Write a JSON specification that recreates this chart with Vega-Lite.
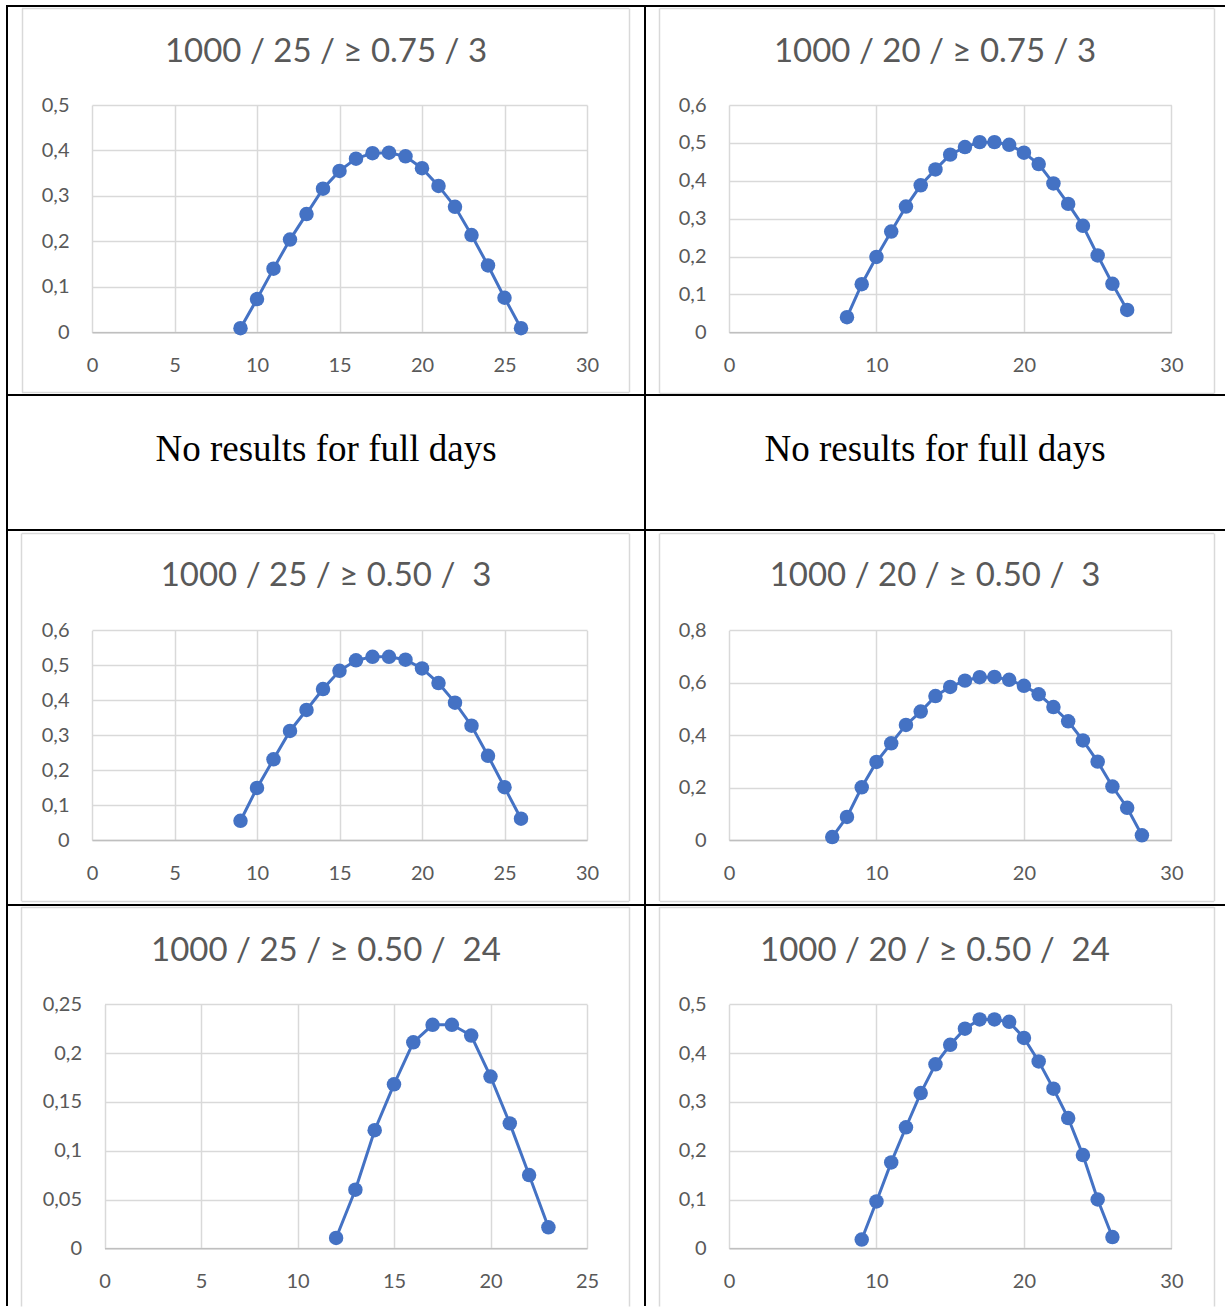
{
  "$schema": "https://vega.github.io/schema/vega-lite/v6.json",
  "background": "white",
  "padding": {"left": 6, "top": 5, "right": 0, "bottom": 0},
  "columns": 2,
  "spacing": 0,
  "bounds": "flush",
  "datasets": {
    "c1": [
      {"x": 9, "y": 0.009}, {"x": 10, "y": 0.073}, {"x": 11, "y": 0.140}, {"x": 12, "y": 0.204},
      {"x": 13, "y": 0.260}, {"x": 14, "y": 0.316}, {"x": 15, "y": 0.355}, {"x": 16, "y": 0.382},
      {"x": 17, "y": 0.394}, {"x": 18, "y": 0.395}, {"x": 19, "y": 0.387}, {"x": 20, "y": 0.361},
      {"x": 21, "y": 0.322}, {"x": 22, "y": 0.276}, {"x": 23, "y": 0.214}, {"x": 24, "y": 0.147},
      {"x": 25, "y": 0.076}, {"x": 26, "y": 0.009}
    ],
    "c2": [
      {"x": 8, "y": 0.040}, {"x": 9, "y": 0.127}, {"x": 10, "y": 0.199}, {"x": 11, "y": 0.266},
      {"x": 12, "y": 0.332}, {"x": 13, "y": 0.388}, {"x": 14, "y": 0.430}, {"x": 15, "y": 0.469},
      {"x": 16, "y": 0.489}, {"x": 17, "y": 0.502}, {"x": 18, "y": 0.502}, {"x": 19, "y": 0.495},
      {"x": 20, "y": 0.474}, {"x": 21, "y": 0.444}, {"x": 22, "y": 0.393}, {"x": 23, "y": 0.339},
      {"x": 24, "y": 0.281}, {"x": 25, "y": 0.203}, {"x": 26, "y": 0.128}, {"x": 27, "y": 0.059}
    ],
    "c3": [
      {"x": 9, "y": 0.055}, {"x": 10, "y": 0.149}, {"x": 11, "y": 0.231}, {"x": 12, "y": 0.312},
      {"x": 13, "y": 0.372}, {"x": 14, "y": 0.432}, {"x": 15, "y": 0.484}, {"x": 16, "y": 0.514},
      {"x": 17, "y": 0.524}, {"x": 18, "y": 0.524}, {"x": 19, "y": 0.516}, {"x": 20, "y": 0.491},
      {"x": 21, "y": 0.449}, {"x": 22, "y": 0.393}, {"x": 23, "y": 0.327}, {"x": 24, "y": 0.241},
      {"x": 25, "y": 0.151}, {"x": 26, "y": 0.061}
    ],
    "c4": [
      {"x": 7, "y": 0.011}, {"x": 8, "y": 0.088}, {"x": 9, "y": 0.201}, {"x": 10, "y": 0.298},
      {"x": 11, "y": 0.369}, {"x": 12, "y": 0.439}, {"x": 13, "y": 0.490}, {"x": 14, "y": 0.549},
      {"x": 15, "y": 0.584}, {"x": 16, "y": 0.608}, {"x": 17, "y": 0.621}, {"x": 18, "y": 0.622},
      {"x": 19, "y": 0.611}, {"x": 20, "y": 0.588}, {"x": 21, "y": 0.556}, {"x": 22, "y": 0.507},
      {"x": 23, "y": 0.453}, {"x": 24, "y": 0.380}, {"x": 25, "y": 0.299}, {"x": 26, "y": 0.204},
      {"x": 27, "y": 0.123}, {"x": 28, "y": 0.018}
    ],
    "c5": [
      {"x": 12, "y": 0.0106}, {"x": 13, "y": 0.060}, {"x": 14, "y": 0.121}, {"x": 15, "y": 0.168},
      {"x": 16, "y": 0.211}, {"x": 17, "y": 0.229}, {"x": 18, "y": 0.229}, {"x": 19, "y": 0.218},
      {"x": 20, "y": 0.176}, {"x": 21, "y": 0.128}, {"x": 22, "y": 0.075}, {"x": 23, "y": 0.0215}
    ],
    "c6": [
      {"x": 9, "y": 0.018}, {"x": 10, "y": 0.096}, {"x": 11, "y": 0.176}, {"x": 12, "y": 0.248},
      {"x": 13, "y": 0.318}, {"x": 14, "y": 0.377}, {"x": 15, "y": 0.417}, {"x": 16, "y": 0.450},
      {"x": 17, "y": 0.469}, {"x": 18, "y": 0.469}, {"x": 19, "y": 0.464}, {"x": 20, "y": 0.431},
      {"x": 21, "y": 0.383}, {"x": 22, "y": 0.327}, {"x": 23, "y": 0.267}, {"x": 24, "y": 0.191},
      {"x": 25, "y": 0.100}, {"x": 26, "y": 0.023}
    ],
    "notes": [{"note": "No results for full days"}]
  },
  "concat": [
    {
      "width": 638, "height": 389,
      "view": {"stroke": "black", "strokeWidth": 2},
      "title": {"text": "1000 / 25 / ≥ 0.75 / 3", "offset": -63},
      "data": {"name": "c1"},
      "resolve": {"scale": {"x": "independent", "y": "independent"}, "axis": {"x": "independent", "y": "independent"}},
      "layer": [
        {
          "mark": {"type": "point", "opacity": 0},
          "encoding": {
            "x": {"datum": 0, "type": "quantitative", "scale": {"domain": [0, 1], "range": [14.5, 621.6], "nice": false, "zero": false},
              "axis": {"orient": "top", "offset": 0, "values": [0, 1], "labels": false, "domain": false, "grid": true}},
            "y": {"datum": 0, "type": "quantitative", "scale": {"domain": [0, 1], "range": [386, 2], "nice": false, "zero": false},
              "axis": {"orient": "left", "offset": 0, "values": [0, 1], "labels": false, "domain": false, "grid": true}}
          }
        },
        {
          "mark": {"type": "line", "color": "#4472C4", "strokeWidth": 3, "point": {"filled": true, "size": 210, "color": "#4472C4", "opacity": 1}},
          "encoding": {
            "x": {"field": "x", "type": "quantitative",
              "scale": {"domain": [0, 30], "range": [85, 580], "nice": false, "zero": false},
              "axis": {"orient": "top", "values": [0, 5, 10, 15, 20, 25, 30], "offset": -326.3, "domain": true, "grid": true}},
            "y": {"field": "y", "type": "quantitative",
              "scale": {"domain": [0, 0.5], "range": [326.3, 99], "nice": false},
              "axis": {"orient": "left", "values": [0, 0.1, 0.2, 0.3, 0.4, 0.5], "offset": -85, "grid": true}}
          }
        }
      ]
    },
    {
      "width": 580, "height": 389,
      "view": {"stroke": "black", "strokeWidth": 2, "strokeDash": [580, 389, 969, 0]},
      "title": {"text": "1000 / 20 / ≥ 0.75 / 3", "offset": -63},
      "data": {"name": "c2"},
      "resolve": {"scale": {"x": "independent", "y": "independent"}, "axis": {"x": "independent", "y": "independent"}},
      "layer": [
        {
          "mark": {"type": "point", "opacity": 0},
          "encoding": {
            "x": {"datum": 0, "type": "quantitative", "scale": {"domain": [0, 1], "range": [14.4, 568.6], "nice": false, "zero": false},
              "axis": {"orient": "top", "offset": 0, "values": [0, 1], "labels": false, "domain": false, "grid": true}},
            "y": {"datum": 0, "type": "quantitative", "scale": {"domain": [0, 1], "range": [387, 2], "nice": false, "zero": false},
              "axis": {"orient": "left", "offset": 0, "values": [0, 1], "labels": false, "domain": false, "grid": true}}
          }
        },
        {
          "mark": {"type": "line", "color": "#4472C4", "strokeWidth": 3, "point": {"filled": true, "size": 210, "color": "#4472C4", "opacity": 1}},
          "encoding": {
            "x": {"field": "x", "type": "quantitative",
              "scale": {"domain": [0, 30], "range": [84, 526.4], "nice": false, "zero": false},
              "axis": {"orient": "top", "values": [0, 10, 20, 30], "offset": -326.3, "domain": true, "grid": true}},
            "y": {"field": "y", "type": "quantitative",
              "scale": {"domain": [0, 0.6], "range": [326.3, 99], "nice": false},
              "axis": {"orient": "left", "values": [0, 0.1, 0.2, 0.3, 0.4, 0.5, 0.6], "offset": -84, "grid": true}}
          }
        }
      ]
    },
    {
      "width": 638, "height": 135,
      "view": {"stroke": "black", "strokeWidth": 2},
      "data": {"name": "notes"},
      "mark": {"type": "text", "font": "Liberation Serif", "fontSize": 37, "color": "black", "baseline": "alphabetic", "dy": -2},
      "encoding": {"text": {"field": "note"}}
    },
    {
      "width": 580, "height": 135,
      "view": {"stroke": "black", "strokeWidth": 2, "strokeDash": [580, 135, 715, 0]},
      "data": {"name": "notes"},
      "mark": {"type": "text", "font": "Liberation Serif", "fontSize": 37, "color": "black", "baseline": "alphabetic", "dy": -2},
      "encoding": {"text": {"field": "note"}}
    },
    {
      "width": 638, "height": 375,
      "view": {"stroke": "black", "strokeWidth": 2},
      "title": {"text": "1000 / 25 / ≥ 0.50 / \u00a03", "offset": -63},
      "data": {"name": "c3"},
      "resolve": {"scale": {"x": "independent", "y": "independent"}, "axis": {"x": "independent", "y": "independent"}},
      "layer": [
        {
          "mark": {"type": "point", "opacity": 0},
          "encoding": {
            "x": {"datum": 0, "type": "quantitative", "scale": {"domain": [0, 1], "range": [14.2, 621.6], "nice": false, "zero": false},
              "axis": {"orient": "top", "offset": 0, "values": [0, 1], "labels": false, "domain": false, "grid": true}},
            "y": {"datum": 0, "type": "quantitative", "scale": {"domain": [0, 1], "range": [370.7, 3], "nice": false, "zero": false},
              "axis": {"orient": "left", "offset": 0, "values": [0, 1], "labels": false, "domain": false, "grid": true}}
          }
        },
        {
          "mark": {"type": "line", "color": "#4472C4", "strokeWidth": 3, "point": {"filled": true, "size": 210, "color": "#4472C4", "opacity": 1}},
          "encoding": {
            "x": {"field": "x", "type": "quantitative",
              "scale": {"domain": [0, 30], "range": [85, 580], "nice": false, "zero": false},
              "axis": {"orient": "top", "values": [0, 5, 10, 15, 20, 25, 30], "offset": -310, "domain": true, "grid": true}},
            "y": {"field": "y", "type": "quantitative",
              "scale": {"domain": [0, 0.6], "range": [310, 100.3], "nice": false},
              "axis": {"orient": "left", "values": [0, 0.1, 0.2, 0.3, 0.4, 0.5, 0.6], "offset": -85, "grid": true}}
          }
        }
      ]
    },
    {
      "width": 580, "height": 375,
      "view": {"stroke": "black", "strokeWidth": 2, "strokeDash": [580, 375, 955, 0]},
      "title": {"text": "1000 / 20 / ≥ 0.50 / \u00a03", "offset": -63},
      "data": {"name": "c4"},
      "resolve": {"scale": {"x": "independent", "y": "independent"}, "axis": {"x": "independent", "y": "independent"}},
      "layer": [
        {
          "mark": {"type": "point", "opacity": 0},
          "encoding": {
            "x": {"datum": 0, "type": "quantitative", "scale": {"domain": [0, 1], "range": [14.4, 568.6], "nice": false, "zero": false},
              "axis": {"orient": "top", "offset": 0, "values": [0, 1], "labels": false, "domain": false, "grid": true}},
            "y": {"datum": 0, "type": "quantitative", "scale": {"domain": [0, 1], "range": [370.7, 3], "nice": false, "zero": false},
              "axis": {"orient": "left", "offset": 0, "values": [0, 1], "labels": false, "domain": false, "grid": true}}
          }
        },
        {
          "mark": {"type": "line", "color": "#4472C4", "strokeWidth": 3, "point": {"filled": true, "size": 210, "color": "#4472C4", "opacity": 1}},
          "encoding": {
            "x": {"field": "x", "type": "quantitative",
              "scale": {"domain": [0, 30], "range": [84, 526.4], "nice": false, "zero": false},
              "axis": {"orient": "top", "values": [0, 10, 20, 30], "offset": -310, "domain": true, "grid": true}},
            "y": {"field": "y", "type": "quantitative",
              "scale": {"domain": [0, 0.8], "range": [310, 100.3], "nice": false},
              "axis": {"orient": "left", "values": [0, 0.2, 0.4, 0.6, 0.8], "offset": -84, "grid": true}}
          }
        }
      ]
    },
    {
      "width": 638, "height": 401,
      "view": {"stroke": "black", "strokeWidth": 2, "strokeDash": [1039, 638, 401, 0]},
      "title": {"text": "1000 / 25 / ≥ 0.50 / \u00a024", "offset": -63},
      "data": {"name": "c5"},
      "resolve": {"scale": {"x": "independent", "y": "independent"}, "axis": {"x": "independent", "y": "independent"}},
      "layer": [
        {
          "mark": {"type": "point", "opacity": 0},
          "encoding": {
            "x": {"datum": 0, "type": "quantitative", "scale": {"domain": [0, 1], "range": [14.2, 621.6], "nice": false, "zero": false},
              "axis": {"orient": "top", "offset": 0, "values": [0, 1], "labels": false, "domain": false, "grid": true}},
            "y": {"datum": 0, "type": "quantitative", "scale": {"domain": [0, 1], "range": [401, 1.5], "nice": false, "zero": false},
              "axis": {"orient": "left", "offset": 0, "values": [1], "labels": false, "domain": false, "grid": true}}
          }
        },
        {
          "mark": {"type": "line", "color": "#4472C4", "strokeWidth": 3, "point": {"filled": true, "size": 210, "color": "#4472C4", "opacity": 1}},
          "encoding": {
            "x": {"field": "x", "type": "quantitative",
              "scale": {"domain": [0, 25], "range": [97.5, 580], "nice": false, "zero": false},
              "axis": {"orient": "top", "values": [0, 5, 10, 15, 20, 25], "offset": -343.3, "domain": true, "grid": true}},
            "y": {"field": "y", "type": "quantitative",
              "scale": {"domain": [0, 0.25], "range": [343.3, 99.3], "nice": false},
              "axis": {"orient": "left", "values": [0, 0.05, 0.1, 0.15, 0.2, 0.25], "offset": -97.5, "grid": true}}
          }
        }
      ]
    },
    {
      "width": 580, "height": 401,
      "view": {"stroke": "black", "strokeWidth": 2, "strokeDash": [580, 981, 401, 0]},
      "title": {"text": "1000 / 20 / ≥ 0.50 / \u00a024", "offset": -63},
      "data": {"name": "c6"},
      "resolve": {"scale": {"x": "independent", "y": "independent"}, "axis": {"x": "independent", "y": "independent"}},
      "layer": [
        {
          "mark": {"type": "point", "opacity": 0},
          "encoding": {
            "x": {"datum": 0, "type": "quantitative", "scale": {"domain": [0, 1], "range": [14.4, 568.6], "nice": false, "zero": false},
              "axis": {"orient": "top", "offset": 0, "values": [0, 1], "labels": false, "domain": false, "grid": true}},
            "y": {"datum": 0, "type": "quantitative", "scale": {"domain": [0, 1], "range": [401, 1.5], "nice": false, "zero": false},
              "axis": {"orient": "left", "offset": 0, "values": [1], "labels": false, "domain": false, "grid": true}}
          }
        },
        {
          "mark": {"type": "line", "color": "#4472C4", "strokeWidth": 3, "point": {"filled": true, "size": 210, "color": "#4472C4", "opacity": 1}},
          "encoding": {
            "x": {"field": "x", "type": "quantitative",
              "scale": {"domain": [0, 30], "range": [84, 526.4], "nice": false, "zero": false},
              "axis": {"orient": "top", "values": [0, 10, 20, 30], "offset": -343.3, "domain": true, "grid": true}},
            "y": {"field": "y", "type": "quantitative",
              "scale": {"domain": [0, 0.5], "range": [343.3, 99.3], "nice": false},
              "axis": {"orient": "left", "values": [0, 0.1, 0.2, 0.3, 0.4, 0.5], "offset": -84, "grid": true}}
          }
        }
      ]
    }
  ],
  "config": {
    "title": {"font": "Lato", "fontSize": 33, "fontWeight": "normal", "color": "#595959", "anchor": "middle", "frame": "group", "baseline": "alphabetic"},
    "axis": {
      "title": null, "grid": true, "ticks": false, "domain": false,
      "gridColor": "#d9d9d9", "gridWidth": 1.5,
      "labelFont": "Lato", "labelFontSize": 20, "labelColor": "#595959",
      "labelFlush": false, "labelOverlap": false, "labelBound": false, "labelPadding": 23,
      "labelExpr": "replace(format(datum.value, '.2~f'), '.', ',')"
    },
    "axisX": {"domainColor": "#bfbfbf", "domainWidth": 1.5, "labelPadding": -23, "labelBaseline": "top"}
  }
}
